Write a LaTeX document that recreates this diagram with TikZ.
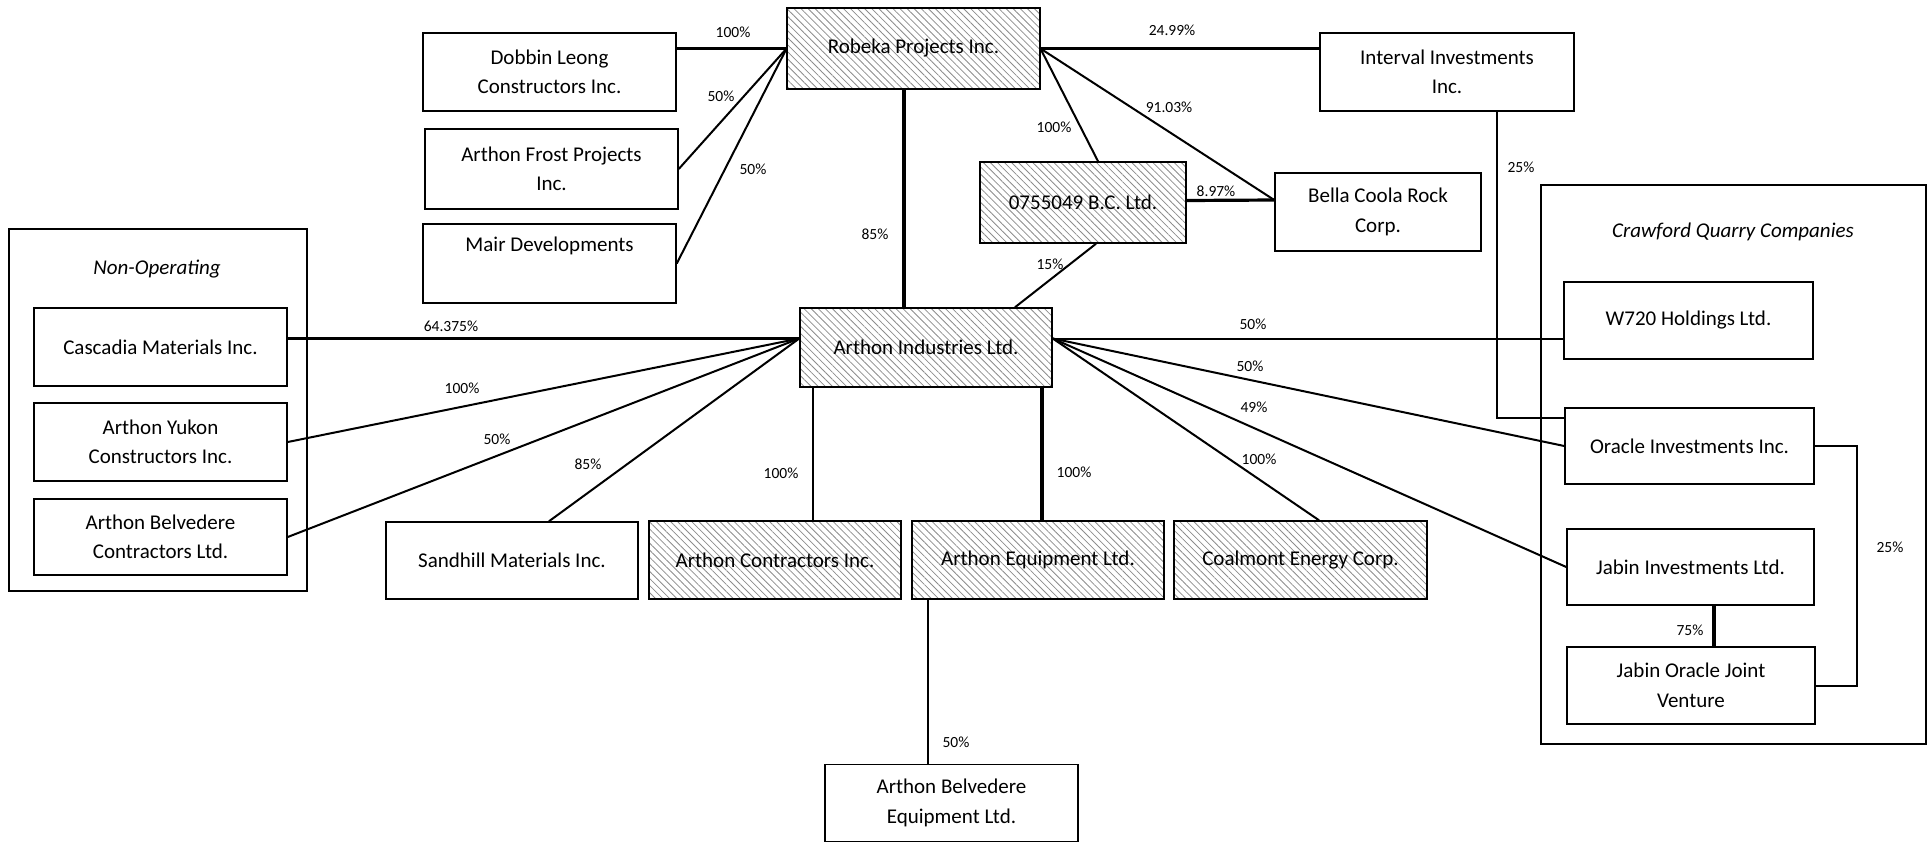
\documentclass[tikz,border=0pt]{standalone}
\usepackage{fontspec}
\setmainfont{Carlito}
\usetikzlibrary{patterns.meta,calc}
\newcommand\mainfs{\fontsize{21}{29.5}\selectfont}
\newcommand\lblfs{\fontsize{15.5}{18}\selectfont}
\begin{document}
\begin{tikzpicture}[x=1pt,y=-1pt]
\tikzset{
  box/.style={draw, line width=1.5pt, inner sep=0pt, align=center, minimum width=253pt, minimum height=78pt, font=\mainfs},
  hatched/.style={box, pattern={Lines[angle=-45,distance=5pt,line width=0.8pt]}, pattern color=black!45},
  frame/.style={draw, line width=1.9pt, inner sep=0pt},
  conn/.style={line width=2pt},
  heavy/.style={line width=3.2pt},
  lbl/.style={inner sep=0pt, font=\lblfs},
  ttl/.style={inner sep=0pt, font=\mainfs\itshape},
}
\useasboundingbox (0,0) rectangle (1932,841);

% frames
\node[frame, minimum width=298pt, minimum height=362pt] (nonop) at (158,410) {};
\node[ttl] (nonopt) at (157,269) {Non-Operating};
\node[frame, minimum width=385pt, minimum height=559pt] (crawford) at (1733.5,464.5) {};
\node[ttl] (crawfordt) at (1733,232) {Crawford Quarry Companies};

% boxes
\node[box] (dobbin) at (549.5,72) {Dobbin Leong\\Constructors Inc.};
\node[box, minimum height=80pt] (frost) at (551.5,169) {Arthon Frost Projects\\Inc.};
\node[box, minimum height=79pt] (mair) at (549.5,263.5) {Mair Developments\\\strut};
\node[hatched, minimum height=81pt] (robeka) at (913.5,48.5) {Robeka Projects Inc.};
\node[box, minimum width=254pt] (interval) at (1447,72) {Interval Investments\\Inc.};
\node[hatched, minimum width=206pt, minimum height=81pt] (b0755) at (1083,202.5) {0755049 B.C. Ltd.};
\node[box, minimum width=206pt] (bella) at (1378,212) {Bella Coola Rock\\Corp.};
\node[hatched, minimum width=252pt, minimum height=79pt] (arthonind) at (926,347.5) {Arthon Industries Ltd.};

\node[box] (cascadia) at (160.5,347) {Cascadia Materials Inc.};
\node[box] (yukon) at (160.5,442) {Arthon Yukon\\Constructors Inc.};
\node[box, minimum height=76pt] (belvcon) at (160.5,537) {Arthon Belvedere\\Contractors Ltd.};

\node[box, minimum width=252pt, minimum height=77pt] (sandhill) at (512,560.5) {Sandhill Materials Inc.};
\node[hatched, minimum width=252pt] (contractors) at (775,560) {Arthon Contractors Inc.};
\node[hatched, minimum width=252pt] (equipment) at (1038,560) {Arthon Equipment Ltd.};
\node[hatched, minimum width=253pt] (coalmont) at (1300.5,560) {Coalmont Energy Corp.};
\node[box, minimum height=77pt] (belvequip) at (951.5,803) {Arthon Belvedere\\Equipment Ltd.};

\node[box, minimum width=249pt, minimum height=77pt] (w720) at (1688.5,320.5) {W720 Holdings Ltd.};
\node[box, minimum width=249pt, minimum height=76pt] (oracle) at (1689.5,446) {Oracle Investments Inc.};
\node[box, minimum width=247pt, minimum height=76pt] (jabin) at (1690.5,567) {Jabin Investments Ltd.};
\node[box, minimum width=248pt, minimum height=77pt] (jojv) at (1691,685.5) {Jabin Oracle Joint\\Venture};

% helper coordinates
\coordinate (aiL) at ($(arthonind.west)+(0,-9)$);
\coordinate (aiR) at ($(arthonind.east)+(0,-9)$);
\coordinate (v85) at (904,0);
\coordinate (vc) at (813,0);
\coordinate (ve) at (1042,0);
\coordinate (vb) at (928,0);
\coordinate (vj) at (1714,0);
\coordinate (ivx) at (1497,418);
\coordinate (orx) at (1857,0);

% Robeka connectors
\draw[heavy] (dobbin.east |- robeka.west) -- (robeka.west);
\draw[conn] (frost.east) -- (robeka.west);
\draw[conn] (mair.east) -- (robeka.west);
\draw[heavy] (robeka.south -| v85) -- (arthonind.north -| v85);
\draw[heavy] (robeka.east) -- (interval.west |- robeka.east);
\draw[conn] (robeka.east) -- ($(b0755.north)+(15,0)$);
\draw[conn] (robeka.east) -- ($(bella.west)+(0,-12)$);
\draw[heavy] ($(b0755.east)+(0,-2)$) -- ($(bella.west)+(0,-12)$);
\draw[conn] ($(b0755.south)+(13,0)$) -- ($(arthonind.north)+(89,0)$);
\draw[conn] (interval.south -| ivx) -- (ivx) -- (ivx -| oracle.west);

% Arthon Industries connectors
\draw[heavy] (cascadia.east |- aiL) -- (aiL);
\draw[conn] (yukon.east) -- (aiL);
\draw[conn] (belvcon.east) -- (aiL);
\draw[conn] ($(sandhill.north)+(37,0)$) -- (aiL);
\draw[conn] (arthonind.south -| vc) -- (contractors.north -| vc);
\draw[heavy] (arthonind.south -| ve) -- (equipment.north -| ve);
\draw[conn] (aiR) -- ($(coalmont.north)+(18.5,0)$);
\draw[conn] (aiR) -- (aiR -| w720.west);
\draw[conn] (aiR) -- (oracle.west);
\draw[conn] (aiR) -- (jabin.west);
\draw[conn] (equipment.south -| vb) -- (belvequip.north -| vb);

% Crawford internal
\draw[conn] (oracle.east) -- (oracle.east -| orx) -- (orx |- jojv.east) -- (jojv.east);
\draw[heavy] (jabin.south -| vj) -- (jojv.north -| vj);

% labels
\node[lbl] (l1) at (733,32) {100\%};
\node[lbl] (l2) at (721,96) {50\%};
\node[lbl] (l3) at (753,169) {50\%};
\node[lbl] (l4) at (875,234) {85\%};
\node[lbl] (l5) at (1172,30) {24.99\%};
\node[lbl] (l6) at (1054,127) {100\%};
\node[lbl] (l7) at (1169,107) {91.03\%};
\node[lbl] (l8) at (1216,191) {8.97\%};
\node[lbl] (l9) at (1050,264) {15\%};
\node[lbl] (l10) at (1521,167) {25\%};
\node[lbl] (l11) at (451,326) {64.375\%};
\node[lbl] (l12) at (462,388) {100\%};
\node[lbl] (l13) at (497,439) {50\%};
\node[lbl] (l14) at (588,464) {85\%};
\node[lbl] (l15) at (781,473) {100\%};
\node[lbl] (l16) at (1074,472) {100\%};
\node[lbl] (l17) at (1259,459) {100\%};
\node[lbl] (l18) at (1253,324) {50\%};
\node[lbl] (l19) at (1250,366) {50\%};
\node[lbl] (l20) at (1254,407) {49\%};
\node[lbl] (l21) at (956,742) {50\%};
\node[lbl] (l22) at (1890,547) {25\%};
\node[lbl] (l23) at (1690,630) {75\%};
\end{tikzpicture}
\end{document}
